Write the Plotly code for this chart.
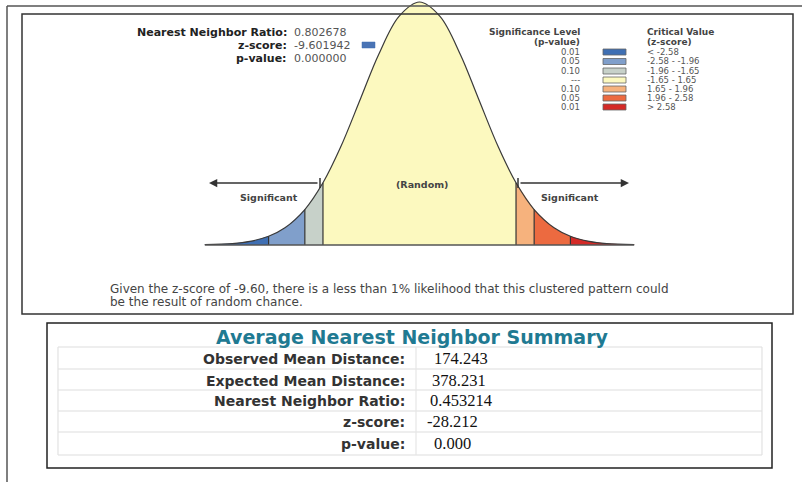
import plotly.graph_objects as go

W, H = 802, 482

# ---------------- data ----------------
curve_z = [-3.67, -3.2, -2.9, -2.58, -2.3, -1.96, -1.65, -1.35, -1.0, -0.7, -0.35, 0.0,
           0.35, 0.7, 1.0, 1.35, 1.65, 1.96, 2.3, 2.58, 2.9, 3.2, 3.67]
curve_h = [0.002, 0.006, 0.015, 0.036, 0.071, 0.146, 0.256, 0.402, 0.607, 0.783, 0.941, 1.0,
           0.941, 0.783, 0.607, 0.402, 0.256, 0.146, 0.071, 0.036, 0.015, 0.006, 0.002]
band_edges = [-3.67, -2.58, -1.96, -1.65, 1.65, 1.96, 2.58, 3.67]
band_colors = ["#3f6fb3", "#809fcb", "#c7d1c9", "#fcf9bf", "#f6b27d", "#ec6a40", "#d42a27"]

sig_levels = ["0.01", "0.05", "0.10", "---", "0.10", "0.05", "0.01"]
crit_values = ["< -2.58", "-2.58 - -1.96", "-1.96 - -1.65", "-1.65 - 1.65",
               "1.65 - 1.96", "1.96 - 2.58", "> 2.58"]

top_labels = ["Nearest Neighbor Ratio:", "z-score:", "p-value:"]
top_values = ["0.802678", "-9.601942", "0.000000"]

summary_labels = ["Observed Mean Distance:", "Expected Mean Distance:",
                  "Nearest Neighbor Ratio:", "z-score:", "p-value:"]
summary_values = ["174.243", "378.231", "0.453214", "-28.212", "0.000"]

note_lines = ["Given the z-score of -9.60, there is a less than 1% likelihood that this clustered pattern could",
              "be the result of random chance."]

# ---------------- helpers ----------------
def px(x):
    return x / W

def py(y):
    return 1 - y / H

CX, SX = 419.5, 58.5      # pixel centre and pixels per z unit
BASE, HT = 245.0, 243.0   # baseline pixel and peak height

fig = go.Figure()

for i, col in enumerate(band_colors):
    a, b = band_edges[i], band_edges[i + 1]
    zs = [z for z in curve_z if a - 1e-9 <= z <= b + 1e-9]
    hs = [curve_h[curve_z.index(z)] for z in zs]
    fig.add_trace(go.Scatter(x=zs, y=hs, mode="lines", fill="tozeroy", fillcolor=col,
                             line=dict(width=0, shape="spline", color=col),
                             hoverinfo="skip", showlegend=False))

fig.add_trace(go.Scatter(x=curve_z, y=curve_h, mode="lines",
                         line=dict(color="#3a3a3a", width=1.2, shape="spline"),
                         hoverinfo="skip", showlegend=False))

shapes = []
for z in band_edges[1:-1]:
    h = curve_h[curve_z.index(z)]
    shapes.append(dict(type="line", xref="x", yref="y", x0=z, x1=z, y0=0, y1=h,
                       line=dict(color="#333333", width=1.2)))
shapes.append(dict(type="line", xref="x", yref="y", x0=curve_z[0], x1=curve_z[-1], y0=0, y1=0,
                   line=dict(color="#555555", width=1.3)))

def rect(x0, y0, x1, y1, color, width=1.5, fill=None):
    d = dict(type="rect", xref="paper", yref="paper", x0=px(x0), x1=px(x1), y0=py(y1), y1=py(y0),
             line=dict(color=color, width=width))
    if fill:
        d["fillcolor"] = fill
    return d

def hline(x0, x1, y, color, width=1.0):
    return dict(type="line", xref="paper", yref="paper", x0=px(x0), x1=px(x1), y0=py(y), y1=py(y),
                line=dict(color=color, width=width))

def vline(x, y0, y1, color, width=1.0):
    return dict(type="line", xref="paper", yref="paper", x0=px(x), x1=px(x), y0=py(y0), y1=py(y1),
                line=dict(color=color, width=width))

# frames
shapes.append(hline(7, 802, 6, "#555555", 1.5))
shapes.append(vline(7, 6, 482, "#555555", 1.5))
shapes.append(rect(22, 14, 793, 314, "#333333", 1.5))
shapes.append(rect(47, 323, 772, 468, "#222222", 1.5))

# summary table faint grid
tbl_y = [347, 369, 390, 411, 432, 455]
for y in tbl_y:
    shapes.append(hline(58, 762, y, "#dddddd", 1.2))
shapes.append(vline(58, 347, 455, "#e2e2e2", 1.2))
shapes.append(vline(762, 347, 455, "#e2e2e2", 1.2))
shapes.append(vline(416, 347, 455, "#e6e6e6", 1.2))

# arrow end ticks
shapes.append(vline(320, 178, 188, "#333333", 1.5))
shapes.append(vline(518, 178, 188, "#333333", 1.5))

# z-score swatch
shapes.append(rect(362, 42, 375, 48, "#3f6fb3", 0.5, "#4a74b5"))

# legend swatches
leg_y = [52, 61.5, 71, 80, 89, 98, 107]
for yv, col in zip(leg_y, band_colors):
    shapes.append(rect(603, yv - 3, 626, yv + 3, "#666666", 0.8, col))

ann = []

def text(x, y, s, size, color="#333333", anchor="left", weight="normal", family="DejaVu Sans"):
    ann.append(dict(xref="paper", yref="paper", x=px(x), y=py(y), text=s, showarrow=False,
                    xanchor=anchor, yanchor="middle",
                    font=dict(size=size, color=color, family=family, weight=weight)))

# top-left stats
top_y = [33, 45.5, 58]
for lab, val, yv in zip(top_labels, top_values, top_y):
    text(289, yv, lab, 11, "#222222", "right", "bold")
    text(292, yv, val, 11, "#555555", "left")

# legend
text(582, 32.5, "Significance Level", 9, "#444444", "right", "bold")
text(582, 41.5, "(p-value)", 9, "#444444", "right", "bold")
text(645, 32.5, "Critical Value", 9, "#444444", "left", "bold")
text(645, 41.5, "(z-score)", 9, "#444444", "left", "bold")
for yv, s, c in zip(leg_y, sig_levels, crit_values):
    text(582, yv, s, 8.5, "#555555", "right")
    text(645, yv, c, 8.5, "#555555", "left")

# arrows
ann.append(dict(xref="paper", yref="paper", x=px(209), y=py(183), ax=110, ay=0, text="",
                showarrow=True, arrowhead=2, arrowsize=1.1, arrowwidth=1.5, arrowcolor="#333333"))
ann.append(dict(xref="paper", yref="paper", x=px(629), y=py(183), ax=-110, ay=0, text="",
                showarrow=True, arrowhead=2, arrowsize=1.1, arrowwidth=1.5, arrowcolor="#333333"))
text(269, 197, "Significant", 9.5, "#444444", "center", "bold")
text(570, 197, "Significant", 9.5, "#444444", "center", "bold")
text(422, 185, "(Random)", 9.5, "#444444", "center", "bold")

# note
for i, s in enumerate(note_lines):
    text(108, 289 + 13 * i, s, 12, "#444444", "left")

# summary
text(412, 337, "Average Nearest Neighbor Summary", 19, "#1f7a92", "center", "bold")
row_y = [358, 380, 400, 421, 443]
val_x = [432, 430, 428, 425, 432]
for lab, val, yv, xv in zip(summary_labels, summary_values, row_y, val_x):
    text(407, yv + 1, lab, 14, "#333333", "right", "bold")
    text(xv, yv, val, 16.5, "#111111", "left", "normal", "Liberation Serif")

fig.update_layout(
    width=W, height=H, margin=dict(l=0, r=0, t=0, b=0),
    paper_bgcolor="white", plot_bgcolor="white",
    xaxis=dict(range=[-CX / SX, (W - CX) / SX], visible=False, domain=[0, 1], fixedrange=True),
    yaxis=dict(range=[-(H - BASE) / HT, BASE / HT], visible=False, domain=[0, 1], fixedrange=True),
    shapes=shapes, annotations=ann, showlegend=False,
)

fig.write_html("out.html", config={"displayModeBar": False},
               post_script="document.body.style.margin='0';document.body.style.overflow='hidden';")
